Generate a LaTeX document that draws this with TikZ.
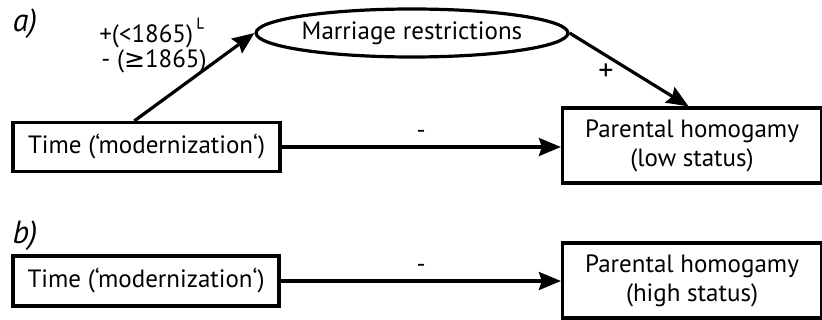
\documentclass[tikz,border=0pt]{standalone}
\usepackage{fontspec}
\setmainfont{PT Sans}
\newfontfamily\symfont{DejaVu Sans}
\usepackage{tikz}
\usetikzlibrary{calc,arrows.meta,shapes.geometric}

\begin{document}
\begin{tikzpicture}[x=0.5pt,y=-0.5pt,line width=1.6pt,
    font=\fontsize{12.5}{14.5}\selectfont,
    var/.style={draw,rectangle,inner sep=2pt,align=center},
    arr/.style={-{Stealth[length=11pt,width=9pt,inset=1.5pt]}},
    panel/.style={font=\fontsize{16}{18}\selectfont\itshape}]
          \useasboundingbox (0,0) rectangle (822,320);
          % a)
          \node[panel] (la) at (25,24) {a)};
          \node[var,minimum width=133.5pt,minimum height=24.5pt] (timeA) at (146.5,147) {Time (‘modernization‘)};
          \node[var,minimum width=129.5pt,minimum height=37.5pt] (parA) at (692,145.5) {Parental homogamy\\(low status)};
          \node[draw,ellipse,inner sep=0pt,minimum width=135pt,minimum height=24pt] (mr) at (412,33) {Marriage restrictions};
          \draw[arr] (timeA.115) -- (mr.west);
          \draw[arr] (mr.east) -- (parA.95);
          \draw[arr] (timeA.east) -- (timeA.east -| parA.west);
          \node (lp) at (152,33) {+(<1865)\textsuperscript{\symfont └}};
          \node (lm) at (154,61) {- ({\symfont ≥}1865)};
          \node[font=\fontsize{15}{15}\selectfont] (lplus) at (606,72) {+};
          \node (lminA) at (421,134) {-};
          % b)
          \node[panel] (lb) at (25,236) {b)};
          \node[var,minimum width=133pt,minimum height=25pt] (timeB) at (146,281) {Time (‘modernization‘)};
          \node[var,minimum width=129.5pt,minimum height=37.5pt] (parB) at (692,280.5) {Parental homogamy\\(high status)};
          \draw[arr] (timeB.east) -- (timeB.east -| parB.west);
          \node (lminB) at (421,268) {-};
        \end{tikzpicture}
\end{document}
